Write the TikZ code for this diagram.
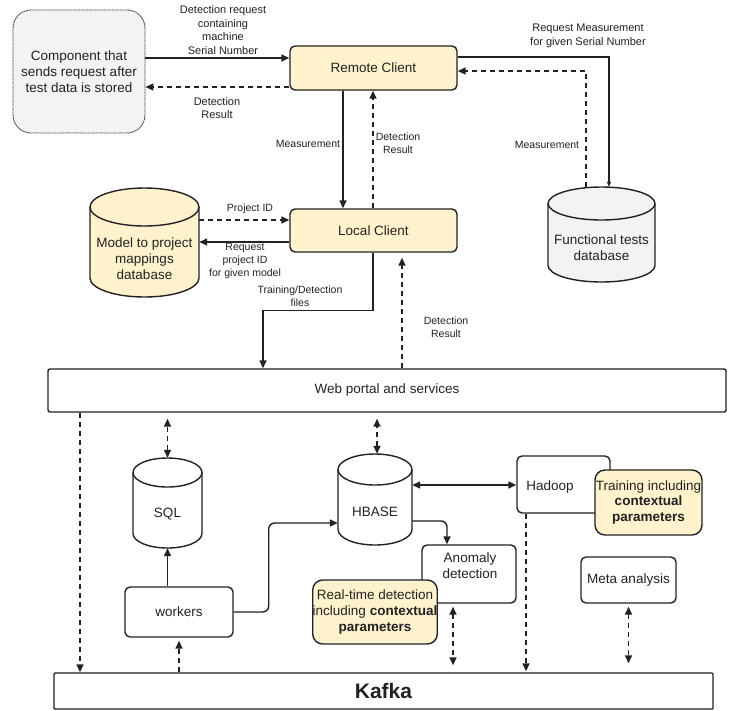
\documentclass[tikz,border=0pt]{standalone}
\usepackage{fontspec}
\setmainfont{Liberation Sans}
\usetikzlibrary{arrows.meta,calc}
\definecolor{ylw}{HTML}{FFF2CC}
\definecolor{gry}{HTML}{F3F3F3}
\definecolor{ink}{HTML}{222222}
\newcommand\fmain{\fontsize{13.5}{15.7}\selectfont}
\newcommand\fmid{\fontsize{11}{13.6}\selectfont}
\newcommand\fsmall{\fontsize{10.5}{13}\selectfont}
\newcommand\dbcyl[8]{%
 \pgfmathsetmacro\cxl{#2}\pgfmathsetmacro\cyt{#3}\pgfmathsetmacro\cxr{#4}\pgfmathsetmacro\cyb{#5}\pgfmathsetmacro\cry{#6}%
 \pgfmathsetmacro\ccx{(\cxl+\cxr)/2}\pgfmathsetmacro\crx{(\cxr-\cxl)/2}%
 \pgfmathsetmacro\ctc{\cyt+\cry}\pgfmathsetmacro\cbc{\cyb-\cry}%
 \pgfmathsetmacro\ckx{0.5523*\crx}\pgfmathsetmacro\cky{0.5523*\cry}%
 \pgfmathsetmacro\cw{\cxr-\cxl}\pgfmathsetmacro\ch{\cyb-\cyt}%
 \pgfmathsetmacro\ccy{(\cyt+\cyb)/2}\pgfmathsetmacro\cty{(\cyt+2*\cry+\cyb)/2-3}%
 \fill[#7] (\cxl,\ctc) rectangle (\cxr,\cbc);
 \fill[#7] (\ccx,\ctc) ellipse[x radius=\crx pt, y radius=\cry pt];
 \fill[#7] (\ccx,\cbc) ellipse[x radius=\crx pt, y radius=\cry pt];
 \draw[cylline] (\ccx,\ctc) ellipse[x radius=\crx pt, y radius=\cry pt];
 \draw[cylline] (\cxl,\ctc) -- (\cxl,\cbc) .. controls (\cxl,\cbc+\cky) and (\ccx-\ckx,\cyb) .. (\ccx,\cyb) .. controls (\ccx+\ckx,\cyb) and (\cxr,\cbc+\cky) .. (\cxr,\cbc) -- (\cxr,\ctc);
 \node[name=#1, minimum width=\cw pt, minimum height=\ch pt, inner sep=0pt] at (\ccx,\ccy) {};
 \node[name=#1t, align=center, inner sep=0pt, text=ink, font=\fmain] at (\ccx,\cty) {#8};
}
\begin{document}
\begin{tikzpicture}[x=1pt,y=-1pt,
  cylline/.style={line width=1.4pt, draw=ink},
  box/.style={draw=ink, line width=1.4pt, rounded corners=5pt, inner sep=0pt, align=center, text=ink, font=\fmain},
  lbl/.style={align=center, inner sep=0pt, text=ink},
  arr/.style={line width=1.4pt, draw=ink, -{Triangle[length=8pt,width=7pt]}},
  darr/.style={line width=1.5pt, draw=ink, dash pattern=on 5pt off 4pt, -{Triangle[length=8pt,width=7pt]}},
  ddarr/.style={line width=1.5pt, draw=ink, dash pattern=on 5pt off 4pt, {Triangle[length=8pt,width=7pt]}-{Triangle[length=8pt,width=7pt]}},
  sarr/.style={line width=1.4pt, draw=ink, {Triangle[length=8pt,width=7pt]}-{Triangle[length=8pt,width=7pt]}}]
\useasboundingbox[fill=white] (0,0) rectangle (739,710);

% ---- top part
\node[box, fill=gry, draw=ink!80, line width=0.9pt, dash pattern=on 2pt off 0.6pt, rounded corners=18pt, minimum width=132pt, minimum height=123pt] (comp) at (79,71.5)
  {Component that\\sends request after\\test data is stored};
\node[box, fill=ylw, minimum width=167pt, minimum height=44pt] (remote) at (373.5,68) {Remote Client};
\node[box, fill=ylw, minimum width=167pt, minimum height=43pt] (local) at (373.5,230.5) {Local Client};

\dbcyl{fdb}{548}{187}{655}{282}{16.5}{gry}{Functional tests\\database}
\dbcyl{mdb}{90}{188}{199}{297}{19}{ylw}{Model to project\\mappings\\database}

\draw[arr] ([yshift=13.5pt]comp.east) -- ([yshift=10pt]remote.west);
\node[lbl, font=\fmid] (l1) at (223,30) {Detection request\\containing\\machine\\Serial Number};
\draw[darr] ([yshift=-19pt]remote.west) -- ([yshift=-15.5pt]comp.east);
\node[lbl, font=\fmid] (l2) at (217,108) {Detection\\Result};

\draw[line width=1.4pt, draw=ink, -{Triangle[length=5pt,width=4pt]}] ([yshift=11pt]remote.east) -| ([xshift=7.5pt]fdb.north);
\node[lbl, font=\fmid] (l3) at (588,36) {Request Measurement\\for given Serial Number};
\draw[darr] ([xshift=-15.5pt]fdb.north) |- ([yshift=-3pt]remote.east);
\node[lbl, font=\fsmall] (l4) at (547,145) {Measurement};

\draw[arr] ([xshift=-30.5pt]remote.south) -- ([xshift=-30.5pt]local.north);
\node[lbl, font=\fsmall] (l5) at (308,144) {Measurement};
\draw[darr] ([xshift=-0.5pt]local.north) -- ([xshift=-0.5pt]remote.south);
\node[lbl, font=\fsmall] (l6) at (398,143) {Detection\\Result};

\draw[darr] ([yshift=22.5pt]mdb.east) -- ([yshift=10.5pt]local.west);
\node[lbl, font=\fsmall] (l7) at (250,209) {Project ID};
\draw[arr] ([yshift=-11.5pt]local.west) -- ([yshift=0.5pt]mdb.east);
\node[lbl, font=\fsmall] (l8) at (245,261) {Request\\project ID\\for given model};

% ---- web portal
\node[box, fill=white, rounded corners=2pt, minimum width=678pt, minimum height=43pt] (web) at (387,390.5) {Web portal and services};
\draw[arr] ([xshift=-0.5pt]local.south) -- ++(0,58) -| ([xshift=-124pt]web.north);
\node[lbl, font=\fsmall] (l9) at (300,296) {Training/Detection\\files};
\draw[darr, shorten >=5pt] ([xshift=15pt]web.north) -- ([xshift=28.5pt]local.south);
\node[lbl, font=\fsmall] (l10) at (446,327) {Detection\\Result};

% ---- bottom part
\node[box, fill=white, rounded corners=1pt, minimum width=659pt, minimum height=36pt, font=\fontsize{21}{24}\selectfont\bfseries] (kafka) at (383.5,691) {Kafka};

\dbcyl{sql}{133}{458}{202}{548}{14.5}{white}{SQL}
\dbcyl{hbase}{338}{454}{412}{545}{15.5}{white}{HBASE}

\node[box, fill=white, minimum width=108pt, minimum height=50pt] (workers) at (179,612) {workers};
\node[box, fill=white, minimum width=93pt, minimum height=57pt] (hadoop) at (563.5,484.5) {};
\node[lbl, font=\fmain] (hadooptxt) at (550,487) {Hadoop};
\node[box, fill=ylw, rounded corners=10pt, minimum width=107pt, minimum height=65pt] (training) at (648.5,502.5)
  {Training including\\\textbf{contextual}\\\textbf{parameters}};
\node[box, fill=white, minimum width=94pt, minimum height=58pt] (anomaly) at (469,574) {};
\node[lbl, font=\fmain] (anomalytxt) at (470,566) {Anomaly\\detection};
\node[box, fill=ylw, rounded corners=10pt, minimum width=124pt, minimum height=64pt] (realtime) at (375,612)
  {Real-time detection\\including \textbf{contextual}\\\textbf{parameters}};
\node[box, fill=white, minimum width=95pt, minimum height=46pt] (meta) at (628.5,580) {Meta analysis};

\draw[darr] ([xshift=-307pt]web.south) -- ([xshift=-303.5pt]kafka.north);
\draw[ddarr, shorten >=6pt] (sql.north) -- (sql.north |- web.south);
\draw[arr] (sql.south |- workers.north) -- (sql.south);
\draw[darr, shorten >=3pt] (workers.south |- kafka.north) -- (workers.south);
\draw[arr, rounded corners=6pt] (workers.east) -- ++(35,0) |- ([yshift=-23.5pt]hbase.west);
\draw[ddarr, shorten >=6pt] ([xshift=2pt]hbase.north) -- ([xshift=2pt]hbase.north |- web.south);
\draw[sarr] ([yshift=14.5pt]hbase.east) -- ([yshift=-0.5pt]hadoop.west);
\draw[arr, rounded corners=6pt] ([yshift=-21.5pt]hbase.east) -| ([xshift=-22pt]anomaly.north);
\draw[ddarr, shorten <=3pt, shorten >=7pt] ([xshift=-16pt]anomaly.south) -- ([xshift=-16pt]anomaly.south |- kafka.north);
\draw[darr, shorten >=1pt] ([xshift=-37.5pt]hadoop.south) -- ([xshift=-37.5pt]hadoop.south |- kafka.north);
\draw[ddarr, shorten <=3pt, shorten >=9pt] (meta.south) -- (meta.south |- kafka.north);
\end{tikzpicture}
\end{document}
